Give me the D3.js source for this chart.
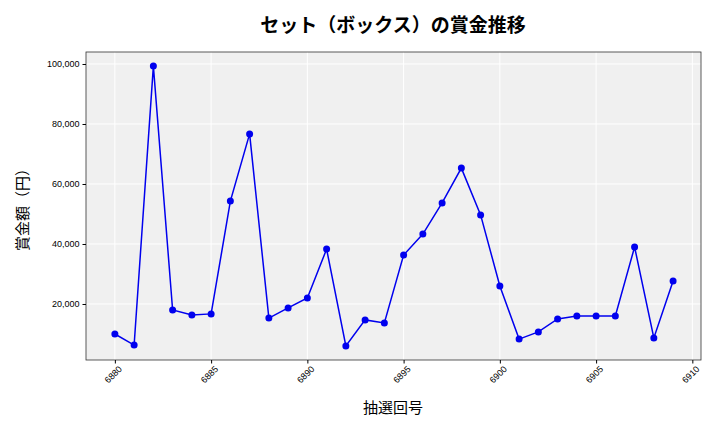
<!DOCTYPE html>
<html><head><meta charset="utf-8">
<script src="https://cdn.jsdelivr.net/npm/d3@7"></script>
<style>body{margin:0;background:#fff;font-family:"Noto Sans CJK JP","Noto Sans",sans-serif;}</style>
</head><body><svg id="c" width="720" height="432"></svg>
<script>
const draws = d3.range(6880, 6910);
const prizes = [10000,6300,99300,18000,16300,16700,54300,76700,15300,18700,22000,38300,6000,14700,13700,36300,43300,53700,65300,49700,26000,8300,10700,15000,16000,16000,16000,39000,8700,27700];
const xTicks = [6880,6885,6890,6895,6900,6905,6910];
const yTicks = [20000,40000,60000,80000,100000];

const svg = d3.select("#c");
const m = {l:86, r:701, t:52, b:360};
const x = d3.scaleLinear([6878.5, 6910.45], [m.l, m.r]);
const y = d3.scaleLinear([1333, 104000], [m.b, m.t]);

svg.append("rect").attr("x", m.l).attr("y", m.t).attr("width", m.r-m.l).attr("height", m.b-m.t).attr("fill", "#f0f0f0");
const g = svg.append("g");
g.selectAll(".gx").data(xTicks).join("line").attr("x1", d=>x(d)).attr("x2", d=>x(d)).attr("y1", m.t).attr("y2", m.b).attr("stroke", "#fff");
g.selectAll(".gy").data(yTicks).join("line").attr("y1", d=>y(d)).attr("y2", d=>y(d)).attr("x1", m.l).attr("x2", m.r).attr("stroke", "#fff");
svg.append("rect").attr("x", m.l).attr("y", m.t).attr("width", m.r-m.l).attr("height", m.b-m.t).attr("fill", "none").attr("stroke", "#333").attr("stroke-width", 0.8);

const xa = svg.append("g").attr("transform", `translate(0,${m.b})`)
  .call(d3.axisBottom(x).tickValues(xTicks).tickFormat(d3.format("d")).tickSize(3.5));
xa.select(".domain").remove();
xa.selectAll("text").attr("font-size", 9).attr("text-anchor", "end")
  .attr("transform", "rotate(-45)").attr("dx", "-0.2em").attr("dy", "0.6em");
const ya = svg.append("g").attr("transform", `translate(${m.l},0)`)
  .call(d3.axisLeft(y).tickValues(yTicks).tickFormat(d3.format(",")).tickSize(3.5));
ya.select(".domain").remove();
ya.selectAll("text").attr("font-size", 9);

const line = d3.line().x((d,i)=>x(draws[i])).y(d=>y(d));
svg.append("path").datum(prizes).attr("d", line).attr("fill", "none").attr("stroke", "#0000ee").attr("stroke-width", 1.5);
svg.selectAll(".pt").data(prizes).join("circle").attr("cx", (d,i)=>x(draws[i])).attr("cy", d=>y(d)).attr("r", 3.5).attr("fill", "#0000ee");

svg.append("text").attr("x", 393).attr("y", 32).attr("text-anchor", "middle").attr("font-size", 19).attr("font-weight", "bold").text("セット（ボックス）の賞金推移");
svg.append("text").attr("x", 393).attr("y", 413).attr("text-anchor", "middle").attr("font-size", 15).text("抽選回号");
svg.append("text").attr("transform", "translate(28,206) rotate(-90)").attr("text-anchor", "middle").attr("font-size", 15).text("賞金額（円）");
</script></body></html>
